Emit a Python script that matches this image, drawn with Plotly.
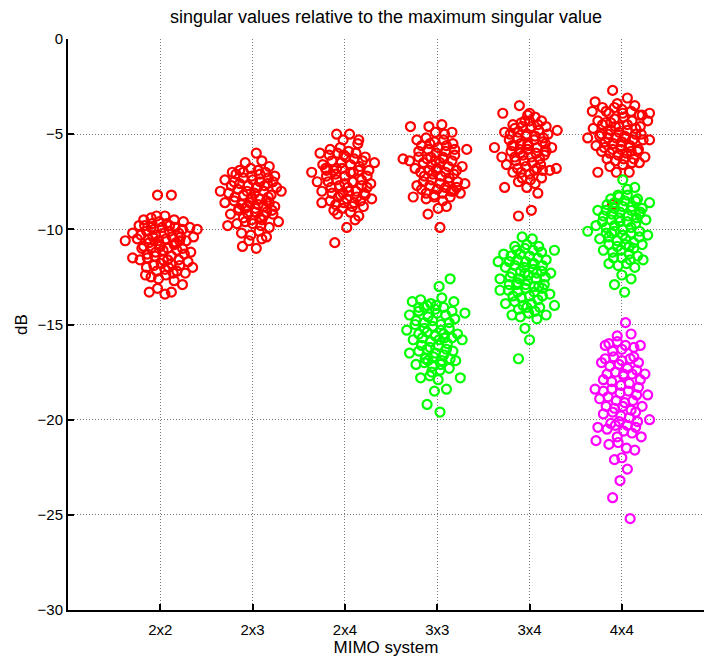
import plotly.graph_objects as go

categories = ["2x2", "2x3", "2x4", "3x3", "3x4", "4x4"]
tick_pos = [1, 2, 3, 4, 5, 6]

# ---- red (largest relative singular value) ----
x_2x2_red = [0.97,1.12,0.70,0.77,0.82,0.90,0.96,1.05,1.15,1.25,1.32,1.40,1.36,0.62,0.75,0.85,0.93,1.02,1.10,1.20,
             1.28,0.80,0.88,0.98,1.06,1.15,1.24,1.33,0.70,0.78,0.86,0.95,1.03,1.12,1.20,1.30,0.85,0.93,1.01,1.09,
             1.18,1.27,0.90,0.98,1.06,1.15,1.24,1.35,0.88,0.97,1.05,1.12,0.92,1.00,1.08,1.18,0.84,1.22,0.90,1.10,
             0.83,0.91,0.99,1.07,1.16,1.24,0.79,0.87,0.95,1.04,1.13,1.21,0.82,0.90,0.99,1.08,1.17,1.26,0.86,0.94,
             1.03,1.12,1.21,0.96,1.05,1.14]
y_2x2_red = [-8.2,-8.2,-10.2,-9.8,-9.5,-9.4,-9.3,-9.3,-9.5,-9.6,-9.9,-10.0,-10.4,-10.6,-10.5,-10.1,-10.0,-9.9,-10.1,-10.2,
             -10.6,-11.0,-10.7,-10.6,-10.5,-10.8,-11.0,-11.2,-11.5,-11.6,-11.3,-11.2,-11.1,-11.4,-11.6,-11.7,-12.0,-11.9,-11.8,-12.0,
             -12.2,-12.3,-12.5,-12.6,-12.4,-12.7,-12.9,-12.0,-13.3,-13.1,-13.4,-13.3,-10.4,-10.9,-11.6,-11.1,-12.4,-10.4,-9.9,-9.8,
             -9.8,-9.7,-9.6,-9.7,-9.9,-10.0,-10.3,-10.5,-10.3,-10.2,-10.4,-10.6,-10.9,-11.0,-10.8,-11.0,-10.7,-11.3,-11.5,-11.4,
             -11.6,-11.8,-11.9,-12.2,-12.1,-12.3]

x_2x3_red = [2.04,1.92,2.10,2.18,1.78,1.86,1.98,2.06,2.14,2.24,1.70,1.80,1.90,2.00,2.08,2.16,2.26,1.65,1.74,1.84,
             1.94,2.02,2.12,2.20,2.31,1.70,1.80,1.88,1.97,2.06,2.15,2.24,1.76,1.85,1.95,2.03,2.12,2.22,2.28,1.73,
             1.83,1.92,2.00,2.09,2.18,1.88,1.98,2.07,2.15,1.96,2.10,1.89,2.04,1.99,2.05,1.92,2.10,2.18,
             1.82,1.90,1.99,2.08,2.17,1.77,1.86,1.95,2.04,2.13,2.22,1.81,1.90,1.99,2.08,2.17,1.85,1.94,2.03,2.12,
             2.21,1.90,1.99,2.08,2.15]
y_2x3_red = [-6.0,-6.5,-6.4,-6.7,-7.0,-6.9,-6.8,-6.9,-7.0,-7.2,-7.4,-7.5,-7.3,-7.4,-7.5,-7.6,-7.8,-8.0,-8.1,-7.9,
             -8.0,-8.1,-8.0,-8.2,-8.0,-8.6,-8.5,-8.7,-8.6,-8.7,-8.5,-8.8,-9.2,-9.0,-9.2,-9.1,-9.3,-9.2,-9.6,-9.8,
             -9.7,-9.6,-9.7,-9.8,-9.9,-10.2,-10.3,-10.1,-10.4,-10.6,-10.5,-10.9,-11.0,-8.4,-7.8,-8.9,-9.5,-8.6,
             -7.1,-7.0,-7.2,-7.1,-7.3,-7.7,-7.6,-7.7,-7.8,-7.7,-7.5,-8.3,-8.2,-8.3,-8.4,-8.3,-8.9,-8.8,-8.9,-8.8,
             -9.0,-9.4,-9.5,-9.4,-9.1]

x_2x4_red = [2.91,3.05,3.14,2.98,2.73,2.84,2.95,3.04,3.12,3.22,3.32,2.64,2.76,2.86,2.96,3.06,3.16,3.26,2.70,2.80,
             2.90,3.00,3.09,3.18,3.28,2.75,2.85,2.94,3.03,3.12,3.21,3.29,2.75,2.84,2.93,3.02,3.10,3.20,2.88,2.97,
             3.06,3.15,2.92,3.11,3.02,2.89,2.99,3.08,2.91,3.15,2.80,3.24,2.98,
             2.83,2.92,3.01,3.10,3.19,2.79,2.88,2.97,3.06,3.15,3.24,2.82,2.91,3.00,3.09,3.18,2.86,2.95,3.04,3.13,
             3.22,2.90,2.99,3.08,3.17]
y_2x4_red = [-5.0,-5.0,-5.5,-5.3,-6.0,-5.8,-5.7,-5.9,-6.0,-6.2,-6.5,-7.0,-6.6,-6.4,-6.5,-6.6,-6.7,-6.9,-7.5,-7.2,
             -7.1,-7.2,-7.0,-7.4,-7.6,-8.0,-7.8,-7.7,-7.8,-8.0,-8.1,-8.4,-8.6,-8.5,-8.3,-8.4,-8.6,-8.8,-9.0,-8.9,
             -9.1,-9.3,-9.2,-9.5,-9.9,-10.7,-6.1,-7.5,-6.8,-5.3,-6.9,-7.8,-8.1,
             -6.1,-6.0,-6.2,-6.3,-6.4,-6.8,-6.9,-6.8,-7.0,-6.9,-7.2,-7.5,-7.4,-7.6,-7.5,-7.7,-8.1,-8.2,-8.0,-8.3,
             -8.2,-8.7,-8.6,-8.8,-8.5]

x_3x3_red = [3.71,3.91,4.05,4.16,3.98,4.08,3.78,3.88,3.97,4.07,4.17,4.32,3.63,3.70,3.80,3.90,3.99,4.09,4.19,4.27,
             3.76,3.85,3.94,4.03,4.12,4.21,3.78,3.86,3.95,4.04,4.13,4.30,3.83,3.92,4.00,4.09,4.18,4.25,3.74,3.88,
             3.97,4.06,4.14,4.01,3.90,4.10,4.03,3.99,4.06,3.93,4.22,
             3.83,3.92,4.01,4.10,4.19,3.80,3.89,3.98,4.07,4.16,3.82,3.91,4.00,4.09,4.18,3.85,3.94,4.03,4.12,4.21,
             3.88,3.97,4.06,4.15]
y_3x3_red = [-4.6,-4.6,-4.5,-4.9,-4.9,-5.0,-5.3,-5.2,-5.4,-5.3,-5.5,-5.8,-6.3,-6.4,-5.9,-5.8,-6.0,-5.9,-6.1,-6.7,
             -6.8,-6.5,-6.6,-6.5,-6.7,-6.9,-7.7,-7.2,-7.1,-7.2,-7.3,-7.6,-7.9,-7.7,-7.9,-7.8,-8.0,-8.1,-8.3,-8.4,
             -8.3,-8.5,-8.3,-8.9,-9.2,-8.8,-9.9,-6.9,-6.2,-6.2,-7.5,
             -5.6,-5.5,-5.7,-5.6,-5.8,-6.2,-6.3,-6.4,-6.3,-6.4,-7.0,-6.9,-6.8,-7.0,-7.1,-7.5,-7.4,-7.6,-7.5,-7.8,
             -8.1,-8.2,-8.1,-8.0]

x_3x4_red = [4.89,4.71,5.00,5.06,4.95,5.13,5.30,4.73,4.84,4.92,5.02,5.10,5.20,4.62,4.78,4.87,4.96,5.05,5.14,5.24,
             4.70,4.80,4.89,4.98,5.07,5.16,4.75,4.85,4.94,5.03,5.12,5.22,5.29,4.82,4.91,5.00,5.13,4.73,4.88,4.97,
             5.06,5.09,5.02,4.88,4.98,5.08,4.90,5.18,4.83,4.98,
             4.82,4.91,5.00,5.09,5.18,4.79,4.88,4.97,5.06,5.15,4.81,4.90,4.99,5.08,5.17,4.84,4.93,5.02,5.11,4.87,
             4.96,5.05,5.14,4.92,5.01]
y_3x4_red = [-3.5,-3.9,-3.9,-4.1,-4.3,-4.3,-4.8,-4.9,-4.7,-4.6,-4.6,-4.8,-5.0,-5.7,-5.3,-5.2,-5.1,-5.3,-5.4,-5.7,
             -6.2,-5.9,-5.8,-5.8,-6.0,-6.1,-6.6,-6.4,-6.4,-6.5,-6.6,-6.9,-6.8,-7.0,-7.0,-7.1,-7.3,-7.8,-7.5,-7.8,
             -7.6,-8.1,-9.0,-9.3,-5.5,-6.8,-6.0,-5.9,-5.6,-4.0,
             -4.5,-4.4,-4.3,-4.5,-4.6,-5.0,-4.9,-5.0,-5.1,-5.2,-5.6,-5.5,-5.6,-5.7,-5.5,-6.2,-6.1,-6.2,-6.3,-6.8,
             -6.7,-6.9,-6.9,-7.3,-7.4]

x_4x4_red = [5.90,5.71,5.79,6.06,6.14,6.30,6.28,5.95,6.00,5.86,5.74,5.69,5.63,5.82,5.92,6.02,6.11,6.20,6.30,5.78,
             5.88,5.97,6.06,6.15,6.23,5.72,5.82,5.91,6.00,6.09,6.18,6.25,5.78,5.87,5.96,6.05,6.13,6.19,5.87,5.94,
             6.08,5.74,6.01,5.93,6.04,5.85,6.10,5.99,5.68,6.22,5.90,
             5.83,5.92,6.01,6.10,6.19,5.79,5.88,5.97,6.06,6.15,5.76,5.85,5.94,6.03,6.12,6.21,5.81,5.90,5.99,6.08,
             6.17,5.84,5.93,6.02,6.11]
y_4x4_red = [-2.7,-3.3,-3.6,-3.1,-3.5,-3.9,-4.3,-3.4,-3.7,-3.9,-4.3,-4.7,-5.2,-4.4,-4.2,-4.1,-4.3,-4.6,-5.3,-5.0,
             -4.8,-4.9,-4.8,-5.0,-5.3,-5.6,-5.4,-5.5,-5.4,-5.6,-5.8,-6.2,-5.9,-6.0,-6.1,-6.0,-6.3,-6.5,-6.7,-7.0,
             -7.0,-7.0,-6.6,-4.6,-5.2,-5.2,-5.9,-5.8,-3.8,-4.0,-8.7,
             -3.8,-3.6,-3.9,-3.8,-4.0,-4.5,-4.4,-4.6,-4.5,-4.7,-5.1,-5.0,-5.2,-5.1,-5.3,-5.0,-5.7,-5.8,-5.6,-5.7,
             -5.9,-6.3,-6.4,-6.3,-6.5]

# ---- green (second singular value) ----
x_3x3_green = [4.14,4.02,3.73,3.82,3.93,4.05,4.18,4.30,3.70,3.80,3.90,4.00,4.09,4.19,3.67,3.76,3.86,3.95,4.04,4.13,
               4.22,3.74,3.84,3.93,4.02,4.11,4.27,3.70,3.80,3.89,3.98,4.07,4.17,3.77,3.86,3.95,4.04,4.13,4.25,3.82,
               3.92,4.01,4.10,3.97,3.89,4.03,3.99,4.08,3.90,4.20,3.86,
               3.80,3.89,3.98,4.07,4.16,3.77,3.86,3.95,4.04,4.13,3.80,3.89,3.98,4.07,4.16,3.83,3.92,4.01,4.10,3.87,
               3.96,4.05,4.14,3.94,4.03]
y_3x3_green = [-12.6,-13.0,-13.8,-13.7,-13.9,-13.6,-13.8,-14.4,-14.5,-14.3,-14.6,-14.4,-14.5,-14.7,-15.3,-15.0,-15.2,-15.1,-15.3,-15.2,
               -15.5,-15.8,-15.7,-15.9,-15.8,-16.0,-15.8,-16.5,-16.4,-16.3,-16.5,-16.6,-16.4,-17.1,-17.0,-17.2,-17.1,-17.3,-17.8,-17.8,
               -17.7,-17.9,-18.4,-18.5,-19.2,-19.6,-14.0,-15.7,-16.9,-16.9,-14.1,
               -14.1,-14.0,-14.2,-14.1,-14.3,-14.8,-14.9,-14.8,-15.0,-14.9,-15.5,-15.4,-15.6,-15.5,-15.7,-16.1,-16.2,-16.1,-16.3,-16.8,
               -16.7,-16.9,-16.8,-17.5,-17.4]

x_3x4_green = [4.92,5.03,4.84,4.97,5.10,5.27,4.72,4.66,4.80,4.90,5.00,5.09,5.18,4.74,4.84,4.94,5.04,5.13,5.23,4.68,
               4.79,4.89,4.98,5.07,5.16,4.68,4.77,4.87,4.96,5.05,5.14,5.22,4.74,4.84,4.93,5.02,5.11,5.27,4.81,4.90,
               4.99,5.08,4.95,5.00,4.88,4.95,5.03,4.86,5.10,5.18,
               4.86,4.95,5.04,5.13,4.78,4.87,4.96,5.05,5.14,4.81,4.90,4.99,5.08,5.17,4.78,4.87,4.96,5.05,5.14,4.82,
               4.91,5.00,5.09,4.88,4.97,5.06]
y_3x4_green = [-10.4,-10.5,-10.9,-10.8,-10.9,-11.1,-11.3,-11.7,-11.4,-11.3,-11.4,-11.5,-11.6,-12.0,-11.9,-12.0,-12.1,-12.2,-12.3,-12.6,
               -12.5,-12.6,-12.7,-12.6,-12.9,-13.2,-13.2,-13.3,-13.1,-13.3,-13.5,-13.4,-13.9,-13.8,-14.0,-13.9,-14.1,-14.0,-14.5,-14.6,
               -14.4,-14.7,-15.2,-15.8,-16.8,-12.3,-11.8,-12.9,-13.0,-14.5,
               -11.1,-11.0,-11.1,-11.2,-11.7,-11.6,-11.7,-11.8,-11.9,-12.3,-12.2,-12.4,-12.3,-12.5,-12.9,-12.8,-12.9,-13.0,-13.1,-13.5,
               -13.6,-13.5,-13.7,-14.2,-14.1,-14.3]

x_4x4_green = [6.01,6.14,6.06,5.96,6.17,6.30,5.84,5.92,6.03,6.11,6.22,5.74,5.80,5.89,5.98,6.07,6.16,6.26,5.63,5.72,
               5.83,5.92,6.01,6.10,6.19,6.28,5.76,5.86,5.95,6.04,6.13,6.22,5.80,5.90,5.99,6.08,6.17,6.23,5.86,5.96,
               6.05,6.14,5.92,6.03,6.10,6.00,5.98,6.08,5.89,6.20,
               5.88,5.97,6.06,6.15,5.83,5.92,6.01,6.10,6.19,5.79,5.88,5.97,6.06,6.15,5.83,5.92,6.01,6.10,6.19,5.86,
               5.95,6.04,6.13,5.91,6.00,6.09]
y_4x4_green = [-7.4,-7.8,-7.9,-8.2,-8.4,-8.6,-8.7,-8.6,-8.5,-8.8,-8.9,-9.0,-9.3,-9.2,-9.1,-9.3,-9.4,-9.5,-10.1,-9.8,
               -9.9,-9.8,-10.0,-9.9,-10.1,-10.3,-10.5,-10.4,-10.6,-10.5,-10.7,-10.8,-11.1,-11.2,-11.1,-11.3,-11.4,-11.6,-11.8,-11.9,
               -11.8,-12.0,-12.9,-13.3,-12.6,-12.4,-9.6,-10.9,-10.2,-9.1,
               -8.4,-8.3,-8.2,-8.5,-9.0,-8.9,-8.8,-9.0,-9.2,-9.6,-9.5,-9.4,-9.6,-9.7,-10.2,-10.1,-10.3,-10.2,-10.4,-10.8,
               -10.9,-10.8,-11.0,-11.5,-11.5,-11.6]

# ---- magenta (third singular value) ----
x_4x4_magenta = [6.04,5.95,6.10,5.82,6.20,5.90,6.00,6.13,5.78,5.87,5.97,6.06,6.16,6.25,5.71,5.80,5.89,5.99,6.08,6.18,
                 6.28,5.76,5.85,5.94,6.03,6.12,6.22,5.80,5.90,5.99,6.08,6.17,6.30,5.74,5.84,5.93,6.02,6.11,6.21,5.72,
                 5.86,5.96,6.05,6.14,5.92,6.06,6.00,5.98,5.90,6.09,6.02,5.95,6.15,
                 5.86,5.95,6.04,6.13,5.82,5.91,6.00,6.09,6.18,5.84,5.93,6.02,6.11,6.20,5.80,5.89,5.98,6.07,6.16,5.83,
                 5.92,6.01,6.10,5.88,5.97,6.06,6.15]
y_4x4_magenta = [-14.9,-15.6,-15.5,-16.1,-16.1,-16.4,-16.3,-16.7,-17.0,-17.2,-17.1,-17.3,-17.4,-17.6,-18.4,-17.9,-18.0,-18.2,-18.1,-18.3,
                 -18.7,-18.9,-18.8,-19.0,-19.1,-19.0,-19.3,-19.7,-19.6,-19.8,-19.9,-20.1,-20.0,-20.4,-20.5,-20.3,-20.6,-20.7,-20.9,-21.1,
                 -21.3,-21.2,-21.5,-21.6,-22.1,-22.6,-22.0,-23.2,-24.1,-25.2,-17.6,-20.9,-19.6,
                 -16.0,-15.9,-16.1,-16.2,-16.8,-16.7,-16.9,-16.8,-17.0,-17.6,-17.5,-17.7,-17.6,-17.9,-18.5,-18.4,-18.6,-18.5,-18.7,-19.3,
                 -19.4,-19.3,-19.5,-20.2,-20.1,-20.3,-20.4]

series = [
    (x_2x2_red, y_2x2_red, "#ff0000"),
    (x_2x3_red, y_2x3_red, "#ff0000"),
    (x_2x4_red, y_2x4_red, "#ff0000"),
    (x_3x3_red, y_3x3_red, "#ff0000"),
    (x_3x4_red, y_3x4_red, "#ff0000"),
    (x_4x4_red, y_4x4_red, "#ff0000"),
    (x_3x3_green, y_3x3_green, "#00ff00"),
    (x_3x4_green, y_3x4_green, "#00ff00"),
    (x_4x4_green, y_4x4_green, "#00ff00"),
    (x_4x4_magenta, y_4x4_magenta, "#ff00ff"),
]

FONT = "Liberation Sans, Arial, Helvetica, sans-serif"

fig = go.Figure()
for xs, ys, col in series:
    fig.add_trace(go.Scatter(
        x=xs, y=ys, mode="markers", showlegend=False,
        marker=dict(symbol="circle-open", size=9, color=col, line=dict(width=2.2, color=col)),
        cliponaxis=False,
    ))

# plot area: left spine at x=68, 0 dB at y=39, -30 dB at y=610 (page pixels, body margin removed below)
fig.update_layout(
    width=704, height=657,
    margin=dict(l=68, r=0, t=39, b=47, autoexpand=False),
    paper_bgcolor="white", plot_bgcolor="white",
    font=dict(family=FONT, size=15, color="black"),
    title=dict(text="singular values relative to the maximum singular value",
               x=0.5, xref="paper", xanchor="center",
               y=1 - 17 / 657, yref="container", yanchor="middle",
               font=dict(family=FONT, size=18, color="black")),
)
fig.update_xaxes(
    range=[0, 6.89], tickvals=tick_pos, ticktext=categories,
    showline=True, linecolor="black", linewidth=2, mirror=False,
    ticks="inside", ticklen=6, tickcolor="black", tickwidth=1.5,
    ticklabelstandoff=5,
    showgrid=True, gridcolor="#777777", gridwidth=1, griddash="1px,2px",
    zeroline=False,
    title=dict(text="MIMO system", standoff=2, font=dict(size=17)),
)
fig.update_yaxes(
    range=[-30, 0], tickvals=[0, -5, -10, -15, -20, -25, -30],
    showline=True, linecolor="black", linewidth=2, mirror=False,
    ticks="inside", ticklen=6, tickcolor="black", tickwidth=1.5,
    showgrid=True, gridcolor="#777777", gridwidth=1, griddash="1px,2px",
    zeroline=False,
    title=dict(text="dB", standoff=6, font=dict(size=17)),
)

fig.write_html(
    "out.html",
    config={"displayModeBar": False},
    post_script=(
        "document.documentElement.style.margin='0';"
        "document.documentElement.style.overflow='hidden';"
        "document.body.style.margin='0';"
        "document.body.style.overflow='hidden';"
    ),
)
